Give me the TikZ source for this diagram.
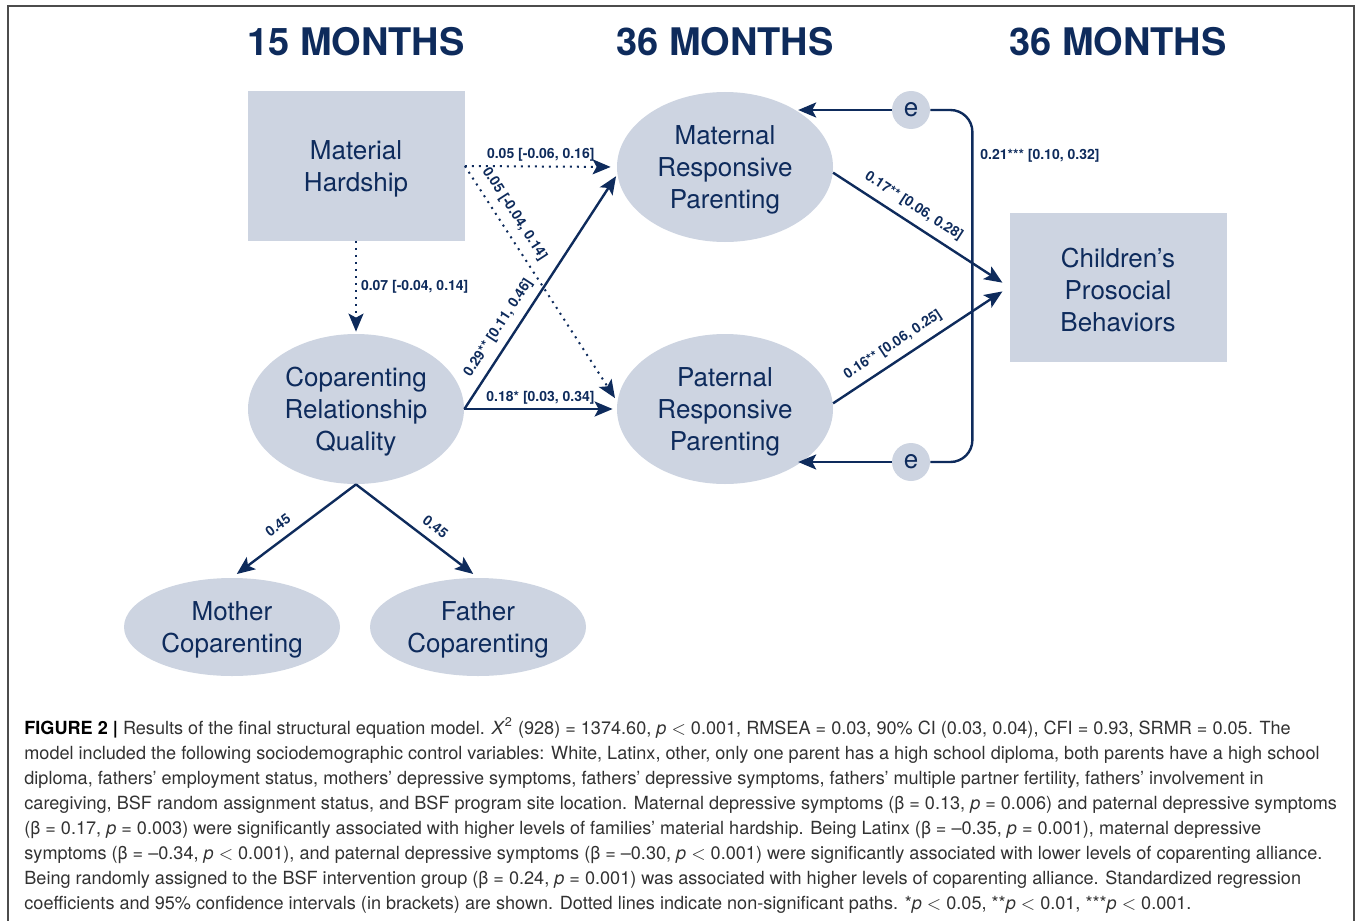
\documentclass[tikz,border=0pt]{standalone}
\usepackage{fontspec}
\setmainfont{TeX Gyre Heros}
\usetikzlibrary{arrows.meta,shapes.geometric}
\definecolor{navy}{RGB}{14,43,92}
\definecolor{boxfill}{RGB}{205,212,225}
\definecolor{captext}{RGB}{50,50,50}
\newcommand{\topstrut}{\rule{0pt}{12.5pt}}

\begin{document}
\begin{tikzpicture}[x=0.5pt, y=-0.5pt,
	var/.style={fill=boxfill, text=navy, font=\fontsize{13}{16}\selectfont, align=center, inner sep=0pt},
	box/.style={var, rectangle, minimum width=108.5pt, minimum height=74.5pt},
	oval/.style={var, ellipse, minimum width=108pt, minimum height=75pt},
	small oval/.style={oval, minimum height=49pt},
	err/.style={var, circle, minimum size=19pt},
	sig/.style={navy, line width=1.2pt, -{Stealth[length=9pt, width=7.5pt, inset=2pt]}},
	nsig/.style={sig, line width=1pt, dash pattern=on 1pt off 2.5pt},
	coef/.style={text=navy, font=\fontsize{7}{8}\selectfont\bfseries, inner sep=2pt},
	along/.style={coef, above, sloped, inner sep=4pt},
	head/.style={text=navy, font=\fontsize{19}{20}\selectfont\bfseries}]
	\useasboundingbox (0,0) rectangle (1358,920);
	\draw[line width=0.8pt, black!70] (8,6) rectangle (1354,960);

	\node[head] (tA) at (356,42) {15 MONTHS};
	\node[head] (tB) at (725,42) {36 MONTHS};
	\node[head] (tC) at (1118,42) {36 MONTHS};

	\node[box] (hard) at (356,166) {\topstrut Material\\Hardship};
	\node[oval] (cop) at (356,409) {\topstrut Coparenting\\Relationship\\Quality};
	\node[oval] (mat) at (725,167) {\topstrut Maternal\\Responsive\\Parenting};
	\node[oval] (pat) at (725,409) {\topstrut Paternal\\Responsive\\Parenting};
	\node[box] (kids) at (1118,287) {\topstrut Children's\\Prosocial\\Behaviors};
	\node[small oval] (mom) at (232,627) {\topstrut Mother\\Coparenting};
	\node[small oval] (dad) at (478,627) {\topstrut Father\\Coparenting};
	\node[err] (e1) at (911,110) {e};
	\node[err] (e2) at (911,462) {e};

	\draw[nsig, shorten >=3pt] (hard.east) -- (mat.west) node[coef, midway, above] {0.05 [-0.06, 0.16]};
	\draw[nsig, shorten >=2pt] (hard.east) -- (pat.176) node[along, pos=0.24] {0.05 [-0.04, 0.14]};
	\draw[nsig, shorten >=1pt] (hard.south) -- (cop.north) node[coef, midway, right] {0.07 [-0.04, 0.14]};
	\draw[sig, shorten >=1pt] (cop.east) -- (mat.184) node[along, pos=0.31] {0.29** [0.11, 0.46]};
	\draw[sig, shorten >=2pt] (cop.east) -- (pat.west) node[coef, midway, above] {0.18* [0.03, 0.34]};
	\draw[sig, shorten >=4pt] (mat.357) -- (kids.west) node[along, pos=0.41] {0.17** [0.06, 0.28]};
	\draw[sig, shorten >=4pt] (pat.3) -- (kids.west) node[along, pos=0.39] {0.16** [0.06, 0.25]};
	\draw[sig, shorten >=3pt] (cop.south) -- (mom.north) node[along, pos=0.56] {0.45};
	\draw[sig, shorten >=3pt] (cop.south) -- (dad.north) node[along, pos=0.58] {0.45};

	\draw[sig, shorten >=2pt] (e1.west) -- (e1.west -| mat.40);
	\draw[sig, shorten >=2pt] (e2.west) -- (e2.west -| pat.-40);
	\draw[navy, line width=1.2pt, rounded corners=11pt] (e1.east) -- ++(42,0) |- (e2.east);
	\node[coef, anchor=west] (cov) at (976,156) {0.21*** [0.10, 0.32]};

	\node[anchor=north west, align=left, text=captext, inner sep=0pt, font=\fontsize{9.05}{12.5}\selectfont] (cap) at (24,717) {%
		\textbf{\color{black}FIGURE 2 |} Results of the final structural equation model. \textit{X}\textsuperscript{2} (928) = 1374.60, \textit{p} $<$ 0.001, RMSEA = 0.03, 90\% CI (0.03, 0.04), CFI = 0.93, SRMR = 0.05. The\\
		model included the following sociodemographic control variables: White, Latinx, other, only one parent has a high school diploma, both parents have a high school\\
		diploma, fathers’ employment status, mothers’ depressive symptoms, fathers’ depressive symptoms, fathers’ multiple partner fertility, fathers’ involvement in\\
		caregiving, BSF random assignment status, and BSF program site location. Maternal depressive symptoms (β = 0.13, \textit{p} = 0.006) and paternal depressive symptoms\\
		(β = 0.17, \textit{p} = 0.003) were significantly associated with higher levels of families’ material hardship. Being Latinx (β = –0.35, \textit{p} = 0.001), maternal depressive\\
		symptoms (β = –0.34, \textit{p} $<$ 0.001), and paternal depressive symptoms (β = –0.30, \textit{p} $<$ 0.001) were significantly associated with lower levels of coparenting alliance.\\
		Being randomly assigned to the BSF intervention group (β = 0.24, \textit{p} = 0.001) was associated with higher levels of coparenting alliance. Standardized regression\\
		coefficients and 95\% confidence intervals (in brackets) are shown. Dotted lines indicate non-significant paths. *\textit{p} $<$ 0.05, **\textit{p} $<$ 0.01, ***\textit{p} $<$ 0.001.};
\end{tikzpicture}
\end{document}
